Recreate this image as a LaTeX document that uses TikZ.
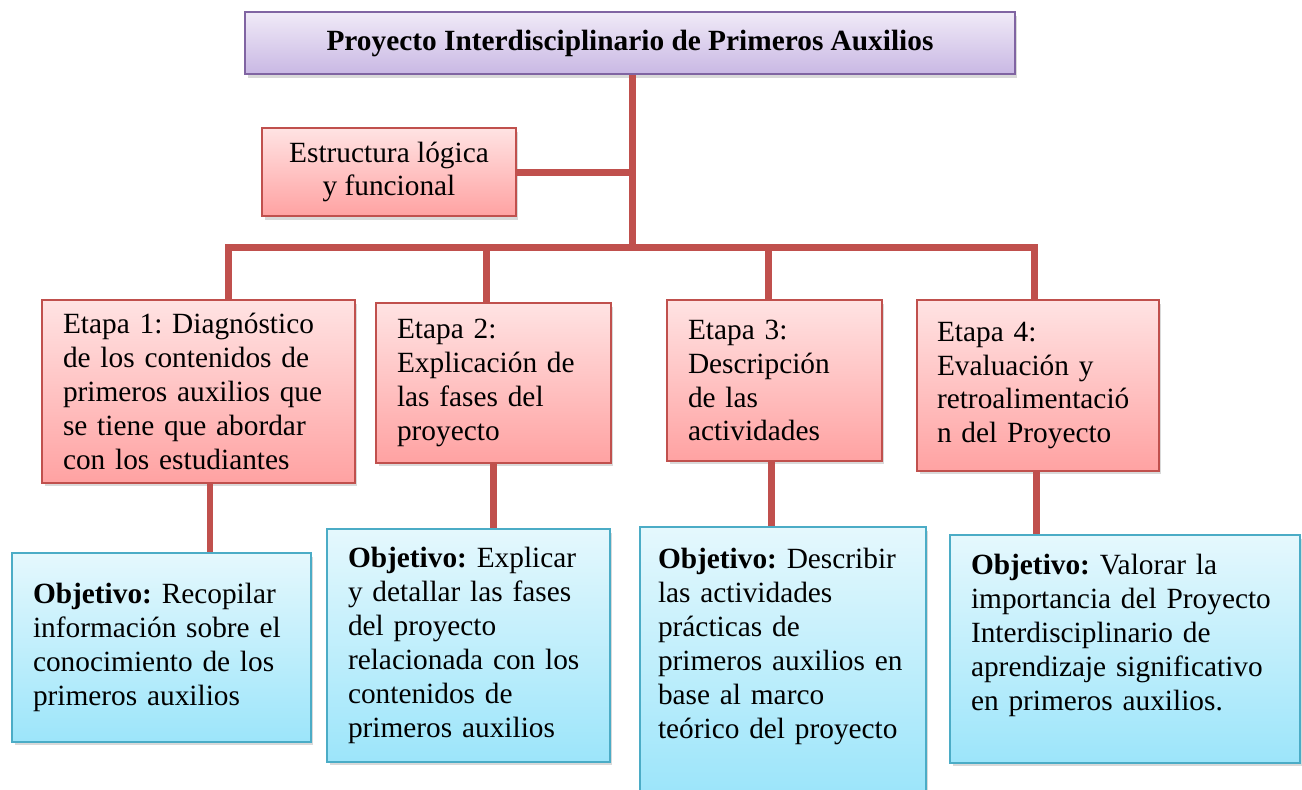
\documentclass[tikz,border=0pt]{standalone}
\usepackage{fontspec}
\setmainfont{Liberation Serif}
\usetikzlibrary{shadows}
\frenchspacing
\definecolor{linkred}{RGB}{192,80,77}
\definecolor{redtop}{RGB}{255,227,227}
\definecolor{redbot}{RGB}{255,162,162}
\definecolor{bluetop}{RGB}{229,248,253}
\definecolor{bluebot}{RGB}{156,229,250}
\definecolor{blueedge}{RGB}{75,172,198}
\definecolor{purptop}{RGB}{240,234,247}
\definecolor{purpbot}{RGB}{201,184,228}
\definecolor{purpedge}{RGB}{128,100,162}

\tikzset{
  box/.style={draw, line width=0.03cm, inner xsep=0.42cm, inner ysep=0pt,
    font=\fontsize{16.7pt}{19.3pt}\selectfont,
    drop shadow={shadow xshift=0.05cm, shadow yshift=-0.07cm, opacity=0.3}},
  etapa/.style={box, align=left, draw=linkred, top color=redtop, bottom color=redbot},
  objbox/.style={box, align=left, draw=blueedge, top color=bluetop, bottom color=bluebot},
  link/.style={linkred, line width=0.14cm, line join=miter},
}

\begin{document}
\begin{tikzpicture}[x=0.02cm, y=-0.02cm]
  \useasboundingbox (0,0) rectangle (1302,789);
  \def\busy{247}

  %top
  \node[box, draw=purpedge, top color=purptop, bottom color=purpbot,
    minimum width=15.4cm, minimum height=1.24cm, font=\fontsize{16.7pt}{19.3pt}\selectfont\bfseries]
    (title) at (630,43) {Proyecto Interdisciplinario de Primeros Auxilios};
  \node[etapa, align=center, minimum width=5.08cm, minimum height=1.76cm]
    (estr) at (389,172) {Estructura lógica\\y funcional};

  %etapas
  \node[etapa, text width=5.42cm, minimum height=3.66cm] (e1) at (198.5,391.5)
    {Etapa 1: Diagnóstico\\de los contenidos de\\primeros auxilios que\\se tiene que abordar\\con los estudiantes};
  \node[etapa, text width=3.86cm, minimum height=3.20cm] (e2) at (493.5,383)
    {Etapa 2:\\Explicación de\\las fases del\\proyecto};
  \node[etapa, text width=3.46cm, minimum height=3.22cm] (e3) at (774.5,380.5)
    {Etapa 3:\\Descripción\\de las\\actividades};
  \node[etapa, text width=4.04cm, inner xsep=0.40cm, minimum height=3.42cm] (e4) at (1038,385.5)
    {Etapa 4:\\Evaluación y\\retroalimentació\\n del Proyecto};

  %objetivos
  \node[objbox, text width=5.14cm, minimum height=3.78cm] (o1) at (161.5,647.5)
    {\textbf{Objetivo:} Recopilar\\información sobre el\\conocimiento de los\\primeros auxilios};
  \node[objbox, text width=4.82cm, minimum height=4.66cm] (o2) at (468.5,645.5)
    {\textbf{Objetivo:} Explicar\\y detallar las fases\\del proyecto\\relacionada con los\\contenidos de\\primeros auxilios};
  \node[objbox, text width=5.00cm, inner xsep=0.36cm, minimum height=5.32cm] (o3) at (783,660)
    {\textbf{Objetivo:} Describir\\las actividades\\prácticas de\\primeros auxilios en\\base al marco\\teórico del proyecto\\\mbox{}};
  \node[objbox, text width=6.16cm, minimum height=4.56cm] (o4) at (1125,649)
    {\textbf{Objetivo:} Valorar la\\importancia del Proyecto\\Interdisciplinario de\\aprendizaje significativo\\en primeros auxilios.\\\mbox{}};

  %links
  \coordinate (hub) at (632,\busy);
  \foreach \n/\x in {1/228,2/486,3/768,4/1034}
    \coordinate (b\n) at (\x,\busy);
  \draw[link] (title.south -| hub) -- (hub);
  \draw[link] (estr.east) -- (estr.east -| hub);
  \draw[link] (b1 |- e1.north) -- (b1) -- (b4) -- (b4 |- e4.north);
  \draw[link] (b2) -- (b2 |- e2.north);
  \draw[link] (b3) -- (b3 |- e3.north);
  \draw[link] ([xshift=0.23cm]e1.south) -- ([xshift=0.23cm]e1.south |- o1.north);
  \draw[link] (e2.south) -- (e2.south |- o2.north);
  \draw[link] ([xshift=-0.07cm]e3.south) -- ([xshift=-0.07cm]e3.south |- o3.north);
  \draw[link] ([xshift=-0.04cm]e4.south) -- ([xshift=-0.04cm]e4.south |- o4.north);
\end{tikzpicture}
\end{document}
